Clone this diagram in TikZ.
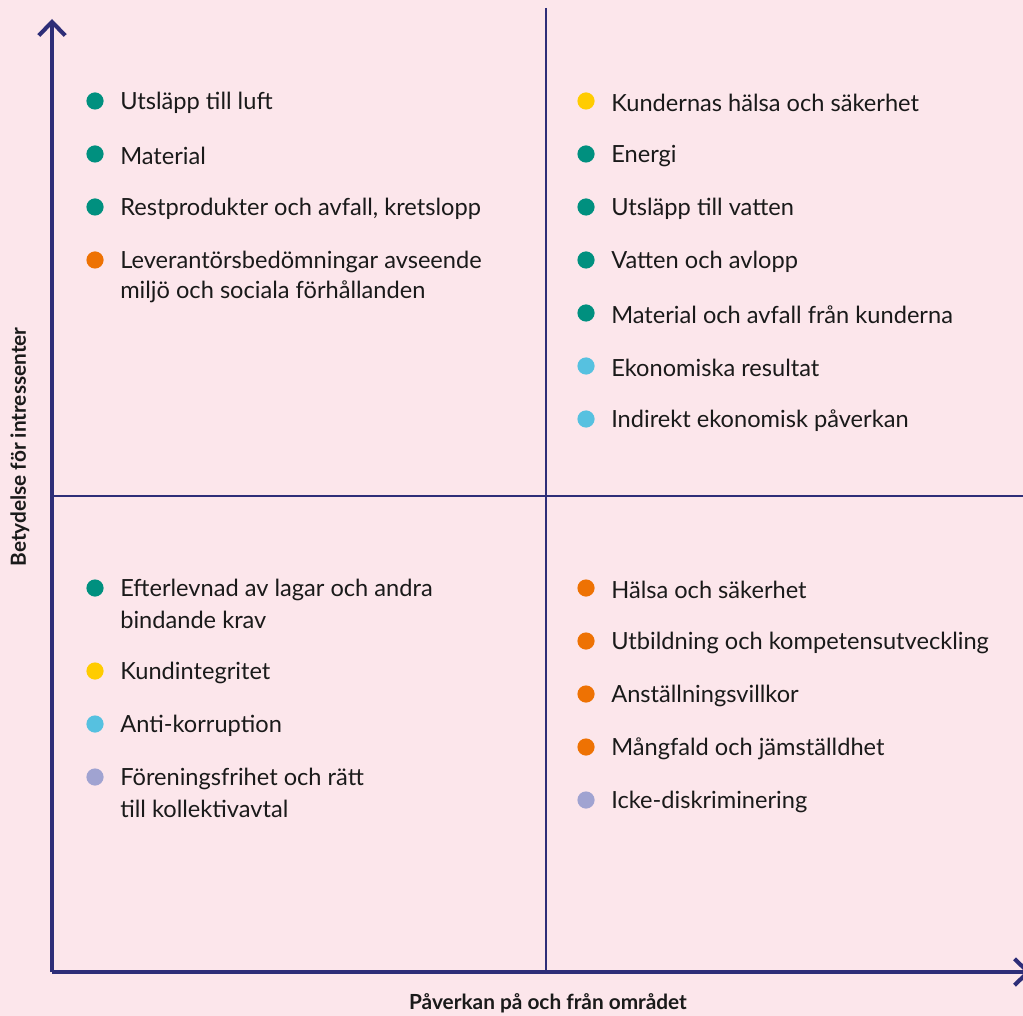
\documentclass[tikz,border=0pt]{standalone}
\usepackage{fontspec}
\setmainfont{Lato}
\usetikzlibrary{arrows.meta}
\definecolor{bgpink}{HTML}{FCE6EB}
\definecolor{navy}{HTML}{2E2E78}
\definecolor{ink}{HTML}{1A1A1A}
\definecolor{mGreen}{HTML}{00907F}
\definecolor{mOrange}{HTML}{EE7203}
\definecolor{mYellow}{HTML}{FFCC00}
\definecolor{mBlue}{HTML}{56C1E0}
\definecolor{mLilac}{HTML}{A0A3D1}

\begin{document}
\begin{tikzpicture}[x=0.025cm, y=-0.025cm,
  dot/.style={circle, inner sep=0pt, minimum size=0.43cm},
  item/.style={anchor=west, inner sep=0pt, yshift=-1.4pt, text=ink, font=\fontsize{16.8}{20}\selectfont},
  axislabel/.style={text=ink, font=\bfseries\fontsize{14.8}{17}\selectfont},
  axisline/.style={draw=navy, line width=2.9pt, -{Straight Barb[length=3.4mm, width=6.6mm]}},
  divider/.style={draw=navy, line width=1.4pt}]
\fill[bgpink] (0,0) rectangle (1023,1016);
\useasboundingbox (0,0) rectangle (1023,1016);

% axes
\coordinate (o) at (52,972);
\coordinate (ytop) at (52,19);
\coordinate (xend) at (1031,972);
\coordinate (vtop) at (546,8);
\coordinate (vbot) at (546,972);
\coordinate (hl) at (52,496);
\coordinate (hr) at (1023,496);
\draw[divider] (vtop) -- (vbot);
\draw[divider] (hl) -- (hr);
\draw[axisline] (o) -- (ytop);
\draw[axisline] (o) -- (xend);

\node[axislabel, rotate=90] (ylab) at (20,447) {Betydelse för intressenter};
\node[axislabel] (xlab) at (548,1003) {Påverkan på och från området};

% top left
\foreach \y/\c/\t [count=\i] in {101/mGreen/Utsläpp till luft, 154/mGreen/Material,
    207/mGreen/{Restprodukter och avfall, kretslopp}, 260/mOrange/Leverantörsbedömningar avseende}{
  \node[dot, fill=\c] (tld\i) at (95,\y) {};
  \node[item] (tlt\i) at (120,\y) {\t};
}
\node[item] (tlt4b) at (120,290) {miljö och sociala förhållanden};

% top right
\foreach \y/\c/\t [count=\i] in {101/mYellow/Kundernas hälsa och säkerhet, 154/mGreen/Energi,
    207/mGreen/Utsläpp till vatten, 260/mGreen/Vatten och avlopp,
    313/mGreen/Material och avfall från kunderna, 366/mBlue/Ekonomiska resultat,
    419/mBlue/Indirekt ekonomisk påverkan}{
  \node[dot, fill=\c] (trd\i) at (586,\y) {};
  \node[item] (trt\i) at (611,\y) {\t};
}

% bottom left
\foreach \y/\c/\t [count=\i] in {588/mGreen/Efterlevnad av lagar och andra, 671/mYellow/Kundintegritet,
    724/mBlue/Anti-korruption, 777/mLilac/Föreningsfrihet och rätt}{
  \node[dot, fill=\c] (bld\i) at (95,\y) {};
  \node[item] (blt\i) at (120,\y) {\t};
}
\node[item] (blt1b) at (120,618) {bindande krav};
\node[item] (blt4b) at (120,807) {till kollektivavtal};

% bottom right
\foreach \y/\c/\t [count=\i] in {588/mOrange/Hälsa och säkerhet, 641/mOrange/Utbildning och kompetensutveckling,
    694/mOrange/Anställningsvillkor, 747/mOrange/Mångfald och jämställdhet,
    800/mLilac/Icke-diskriminering}{
  \node[dot, fill=\c] (brd\i) at (586,\y) {};
  \node[item] (brt\i) at (611,\y) {\t};
}
\end{tikzpicture}
\end{document}
